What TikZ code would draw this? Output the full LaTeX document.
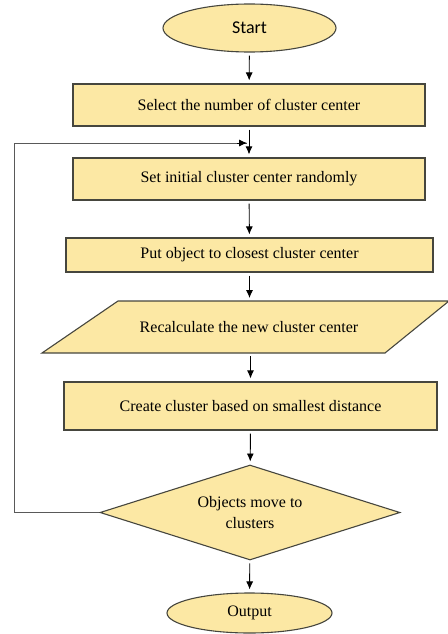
\documentclass[tikz,border=0pt]{standalone}
\usepackage{fontspec}
\setmainfont{Liberation Serif}
\newfontfamily\startfont{Carlito}
\usetikzlibrary{calc}
\usetikzlibrary{shapes.geometric}
\usetikzlibrary{arrows.meta}
\definecolor{boxfill}{RGB}{252,232,164}
\definecolor{boxline}{RGB}{70,70,62}

\begin{document}
\begin{tikzpicture}[x=1pt,y=-1pt,inner sep=0pt,
  every node/.style={font=\fontsize{16}{21}\selectfont},
  blk/.style={draw=boxline,fill=boxfill,line width=1.1pt},
  proc/.style={blk,rectangle,minimum height=42},
  term/.style={blk,ellipse},
  flow/.style={-{Latex[length=8pt,width=7pt]},line width=0.9pt,shorten <=3pt,shorten >=3pt}]
\useasboundingbox (0,0) rectangle (447,634);
\node[term,minimum width=173,minimum height=48,font=\startfont\fontsize{18}{21}\selectfont] (start) at (249.5,28) {Start};
\node[proc,minimum width=352] (select) at (249,105) {Select the number of cluster center};
\node[proc,minimum width=352] (init) at (249,179) {Set initial cluster center randomly};
\node[proc,minimum width=367,minimum height=34] (put) at (249.5,255) {Put object to closest cluster center};
% parallelogram drawn by its corners
\coordinate (pbl) at (42,353);
\coordinate (ptl) at (118,301);
\coordinate (ptr) at (449,301);
\coordinate (pbr) at (385,353);
\draw[blk] (pbl) -- (ptl) -- (ptr) -- (pbr) -- cycle;
\node (recalc) at (249,327) {Recalculate the new cluster center};
\node[proc,minimum width=373,minimum height=48] (create) at (250.5,406) {Create cluster based on smallest distance};
\node[blk,diamond,shape aspect=3.16,minimum width=300,minimum height=95,align=center] (decide) at (250,512.5) {Objects move to\\clusters};
\node[term,minimum width=165,minimum height=40] (output) at (249.5,613) {Output};

\coordinate (back) at (14,143);
\coordinate (join) at (247,143);

\draw[flow] (start) -- (select);
\draw[flow] (select) -- (init);
\draw[flow] (init) -- (put);
\draw[flow] (put) -- (put.south |- ptl);
\draw[flow] (create.north |- pbl) -- (create);
\draw[flow] (create) -- (decide);
\draw[flow] (decide) -- (output);
\draw[line width=0.9pt,draw=black!65] (decide.west) -| (back) -- (join);
\draw[flow,shorten <=0pt,shorten >=0pt] ($(join)+(-10,0)$) -- (join);
\end{tikzpicture}
\end{document}
